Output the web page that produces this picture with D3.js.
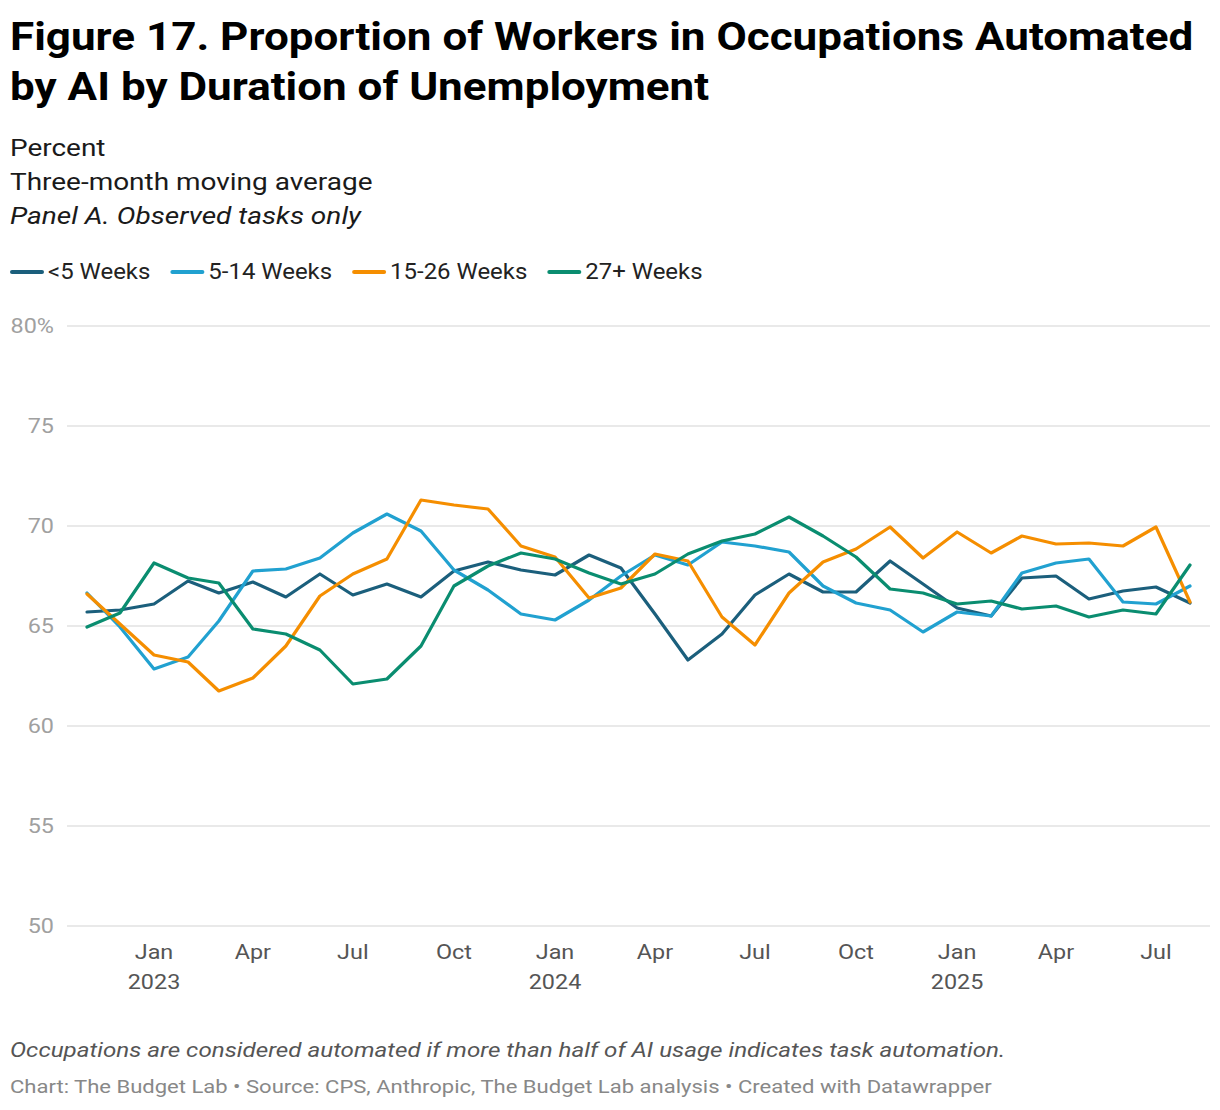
<!DOCTYPE html>
<html>
<head>
<meta charset="utf-8">
<title>Figure 17</title>
<script src="https://cdn.jsdelivr.net/npm/d3@7"></script>
<style>
  body { margin: 0; background: #fff; font-family: Roboto, "Noto Sans", sans-serif; }
  svg text { font-family: Roboto, "Noto Sans", sans-serif; }
</style>
</head>
<body>
<svg id="chart" width="1220" height="1110"></svg>
<script>
// months Nov 2022 .. Aug 2025
var months = d3.timeMonths(new Date(2022, 10, 1), new Date(2025, 8, 1));

var seriesNames = ["<5 Weeks", "5-14 Weeks", "15-26 Weeks", "27+ Weeks"];
var seriesColors = ["#1b5f7c", "#21a1d0", "#f58e00", "#0a8d70"];

var under5 = [65.7, 65.8, 66.1, 67.25, 66.65, 67.2, 66.45, 67.6, 66.55, 67.1, 66.45, 67.75,
  68.2, 67.8, 67.55, 68.55, 67.9, 65.6, 63.3, 64.6, 66.55, 67.6, 66.7, 66.7,
  68.25, 67.1, 65.9, 65.5, 67.4, 67.5, 66.35, 66.75, 66.95, 66.15];
var w5to14 = [66.65, 64.95, 62.85, 63.45, 65.25, 67.75, 67.85, 68.4, 69.65, 70.6, 69.75, 67.8,
  66.8, 65.6, 65.3, 66.3, 67.5, 68.55, 68.05, 69.2, 69.0, 68.7, 67.0, 66.15,
  65.8, 64.7, 65.7, 65.5, 67.65, 68.15, 68.35, 66.2, 66.1, 67.0];
var w15to26 = [66.6, 65.1, 63.55, 63.2, 61.75, 62.4, 64.0, 66.5, 67.6, 68.35, 71.3, 71.05,
  70.85, 69.0, 68.45, 66.4, 66.9, 68.6, 68.25, 65.45, 64.05, 66.65, 68.2, 68.85,
  69.95, 68.4, 69.7, 68.65, 69.5, 69.1, 69.15, 69.0, 69.95, 66.2];
var w27plus = [64.95, 65.65, 68.15, 67.4, 67.15, 64.85, 64.6, 63.8, 62.1, 62.35, 64.0, 67.0,
  68.0, 68.65, 68.35, 67.65, 67.1, 67.6, 68.6, 69.25, 69.6, 70.45, 69.5, 68.45,
  66.85, 66.65, 66.1, 66.25, 65.85, 66.0, 65.45, 65.8, 65.6, 68.05];
var seriesValues = [under5, w5to14, w15to26, w27plus];

var yTicks = [50, 55, 60, 65, 70, 75, 80];
var xTickMonths = ["Jan", "Apr", "Jul", "Oct"];

var svg = d3.select("#chart");

// the reference text is a bit wider than plain Roboto, so stretch horizontally around x
function widen(sel, sx) {
  var x0 = +sel.attr("x");
  sel.attr("transform", "translate(" + (x0 * (1 - sx)) + ",0) scale(" + sx + ",1)");
  return sel;
}

// title + subtitle
["Figure 17. Proportion of Workers in Occupations Automated", "by AI by Duration of Unemployment"]
  .forEach(function(t, i) {
    widen(svg.append("text").attr("x", 10).attr("y", 50 + i * 50)
      .attr("font-size", 38.5).attr("font-weight", 700).attr("fill", "#000").text(t), 1.143);
  });
widen(svg.append("text").attr("x", 10).attr("y", 156).attr("font-size", 24).attr("fill", "#1a1a1a").text("Percent"), 1.165);
widen(svg.append("text").attr("x", 10).attr("y", 190).attr("font-size", 24).attr("fill", "#1a1a1a").text("Three-month moving average"), 1.165);
widen(svg.append("text").attr("x", 10).attr("y", 224).attr("font-size", 24).attr("font-style", "italic").attr("fill", "#1a1a1a").text("Panel A. Observed tasks only"), 1.17);

// legend
var legend = svg.append("g");
var lx = 10;
seriesNames.forEach(function(name, i) {
  legend.append("line").attr("x1", lx + 2).attr("x2", lx + 32).attr("y1", 272).attr("y2", 272)
    .attr("stroke", seriesColors[i]).attr("stroke-width", 4).attr("stroke-linecap", "round");
  var t = legend.append("text").attr("x", lx + 38).attr("y", 279.5).attr("font-size", 21.5)
    .attr("fill", "#222").text(name);
  widen(t, 1.115);
  lx += 38 + t.node().getComputedTextLength() * 1.115 + 20;
});

// scales
var x = d3.scaleTime().domain([months[0], months[months.length - 1]]).range([87, 1190]);
var y = d3.scaleLinear().domain([50, 80]).range([926, 326]);

// grid + y labels
var grid = svg.append("g");
yTicks.forEach(function(v) {
  grid.append("line").attr("x1", 67).attr("x2", 1210).attr("y1", y(v)).attr("y2", y(v))
    .attr("stroke", "#e2e2e2").attr("stroke-width", 1.5);
  widen(grid.append("text").attr("x", 54).attr("y", y(v) + 7).attr("text-anchor", "end")
    .attr("font-size", 20).attr("fill", "#a0a0a0").text(v === 80 ? "80%" : v), 1.17);
});

// x labels
var xt = svg.append("g");
months.forEach(function(m) {
  var name = d3.timeFormat("%b")(m);
  if (xTickMonths.indexOf(name) < 0) return;
  widen(xt.append("text").attr("x", x(m)).attr("y", 959).attr("text-anchor", "middle")
    .attr("font-size", 20).attr("fill", "#555").text(name), 1.17);
  if (name === "Jan") {
    widen(xt.append("text").attr("x", x(m)).attr("y", 989).attr("text-anchor", "middle")
      .attr("font-size", 20).attr("fill", "#555").text(m.getFullYear()), 1.17);
  }
});

// lines
var line = d3.line().x(function(d, i) { return x(months[i]); }).y(function(d) { return y(d); });
svg.append("g").selectAll("path").data(seriesValues).join("path")
  .attr("d", line).attr("fill", "none")
  .attr("stroke", function(d, i) { return seriesColors[i]; })
  .attr("stroke-width", 3.2).attr("stroke-linejoin", "round").attr("stroke-linecap", "round");

// notes
widen(svg.append("text").attr("x", 10).attr("y", 1057).attr("font-size", 20.5).attr("font-style", "italic")
  .attr("fill", "#555").text("Occupations are considered automated if more than half of AI usage indicates task automation."), 1.18);
widen(svg.append("text").attr("x", 10).attr("y", 1093).attr("font-size", 19).attr("fill", "#888")
  .text("Chart: The Budget Lab \u2022 Source: CPS, Anthropic, The Budget Lab analysis \u2022 Created with Datawrapper"), 1.16);
</script>
</body>
</html>
